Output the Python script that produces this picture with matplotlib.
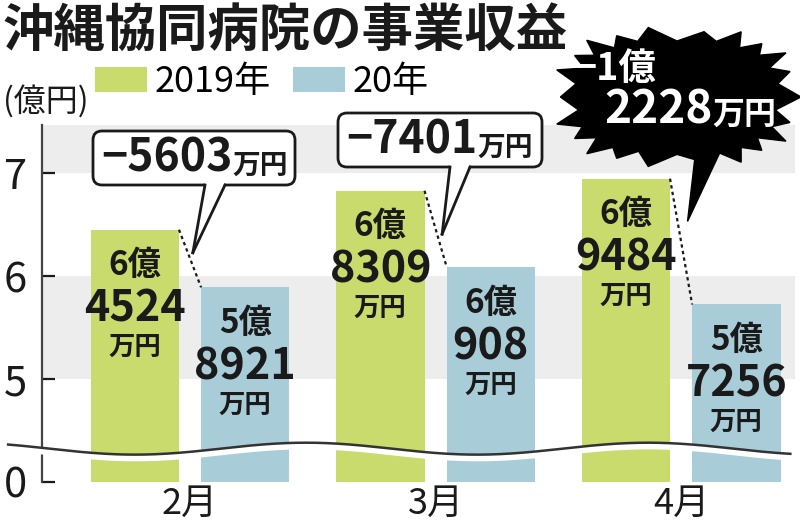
import matplotlib
matplotlib.use("Agg")
import matplotlib.pyplot as plt
import matplotlib.transforms as mtransforms
from matplotlib.patches import FancyBboxPatch, Polygon
from matplotlib.lines import Line2D
import numpy as np

plt.rcParams["font.family"] = ["Noto Sans CJK JP", "DejaVu Sans"]

title = "沖縄協同病院の事業収益"
months = ["2月", "3月", "4月"]
series_names = ["2019年", "20年"]
rev_2019 = [64524, 68309, 69484]  # 万円
rev_2020 = [58921, 60908, 57256]  # 万円
yticks = [0, 5, 6, 7]

GREEN = "#c8db6c"
BLUE = "#a9cdd8"
BAND = "#ededed"
INK = "#1a1a1a"

W, H = 800, 526
fig = plt.figure(figsize=(W / 100, H / 100), dpi=100)
fig.patch.set_facecolor("white")
# top-left pixel coordinates for the decorations
px = mtransforms.Affine2D().scale(1 / W, -1 / H).translate(0, 1) + fig.transFigure

ax = fig.add_axes([42 / W, 1 - 482 / H, (795 - 42) / W, (482 - 125) / H])


# broken axis: 0-5 squeezed into one unit, then linear above 5
def fwd(v):
    v = np.asarray(v, dtype=float)
    return np.where(v < 5, v / 5, v - 4)


def inv(p):
    p = np.asarray(p, dtype=float)
    return np.where(p < 1, p * 5, p + 4)


ax.set_yscale("function", functions=(fwd, inv))
ax.set_ylim(0, 7.47)
ax.set_xlim(-0.603, 2.464)

x = np.arange(len(months))
off, w = 0.225, 0.36
v19 = np.array(rev_2019) / 10000
v20 = np.array(rev_2020) / 10000

ax.axhspan(5, 6, color=BAND, lw=0, zorder=0)
ax.axhspan(7, 7.47, color=BAND, lw=0, zorder=0)

b19 = ax.bar(x - off, v19, w, color=GREEN, label=series_names[0], zorder=2)
b20 = ax.bar(x + off, v20, w, color=BLUE, label=series_names[1], zorder=2)

# wavy break line
wx = np.linspace(-0.741, 2.445, 400)
wy = 1.62 + 0.29 * np.cos(2 * np.pi * (wx - 0.4725) / 1.393)
ax.fill_between(wx, wy + 0.03, wy - 0.30, color="white", lw=0, zorder=3, clip_on=False)
ax.plot(wx, wy, color="#333333", lw=1.8, zorder=4, clip_on=False)

# dotted connectors between the pair tops
for i in range(len(months)):
    ax.plot([x[i] - off + w / 2, x[i] + off - w / 2], [v19[i], v20[i]],
            color=INK, lw=1.6, ls=(0, (1.5, 1.5)), zorder=4)


def bar_label(xc, val):
    oku, man = divmod(val, 10000)
    top = val / 10000
    ax.annotate(f"{oku}億", (xc, top), xytext=(0, -26), textcoords="offset points",
                ha="center", va="center", fontsize=24, weight="bold", color=INK, zorder=5)
    ax.annotate(f"{man}", (xc, top), xytext=(0, -57), textcoords="offset points",
                ha="center", va="center", fontsize=31, weight="bold", color=INK, zorder=5)
    ax.annotate("万円", (xc, top), xytext=(0, -85), textcoords="offset points",
                ha="center", va="center", fontsize=19, weight="bold", color=INK, zorder=5)


for i in range(len(months)):
    bar_label(x[i] - off, rev_2019[i])
    bar_label(x[i] + off, rev_2020[i])

ax.set_yticks(yticks)
ax.set_yticklabels([str(t) for t in yticks])
ax.tick_params(axis="y", direction="in", length=9, width=1.6, labelsize=30, pad=11, colors=INK)
ax.set_xticks(x)
ax.set_xticklabels(months)
ax.tick_params(axis="x", length=0, labelsize=26, pad=3, colors=INK)
for s in ["top", "right", "bottom"]:
    ax.spines[s].set_visible(False)
ax.spines["left"].set_linewidth(1.6)
ax.spines["left"].set_color("#444444")
ax.set_facecolor("white")


def to_px(xd, yd):
    dx, dy = ax.transData.transform((xd, yd))
    return dx, H - dy


def tip_point(i, t, shift):
    x0, y0 = to_px(x[i] - off + w / 2, v19[i])
    x1, y1 = to_px(x[i] + off - w / 2, v20[i])
    return x0 + t * (x1 - x0) + shift, y0 + t * (y1 - y0)


diffs = [b - a for a, b in zip(rev_2019, rev_2020)]
suffixes = []  # (text artist, suffix, size, colour)

# rounded callout boxes for 2月, 3月
boxes = [(93, 131, 202, 54, 205, 225, 0.40), (338, 113, 204, 54, 450, 470, 0.57)]
for i, (bx, by, bw, bh, t0, t1, t) in enumerate(boxes):
    fig.add_artist(FancyBboxPatch((bx, by), bw, bh, boxstyle="round,pad=0,rounding_size=9",
                                  transform=px, fc="white", ec=INK, lw=2))
    tx, ty = tip_point(i, t, 5)
    fig.add_artist(Polygon([(t0, by + bh - 3), (t1, by + bh - 3), (tx, ty)], closed=True,
                           transform=px, fc="white", ec="none"))
    fig.add_artist(Line2D([t0, tx], [by + bh, ty], transform=px, color=INK, lw=2))
    fig.add_artist(Line2D([t1, tx], [by + bh, ty], transform=px, color=INK, lw=2))
    t_num = fig.text((bx + 8) / W, 1 - (by + bh / 2 + 1) / H, f"−{abs(diffs[i])}",
                     fontsize=32, weight="bold", color=INK, ha="left", va="center")
    suffixes.append((t_num, "万円", 20, INK))

# black burst for 4月
n = 22
ang = np.linspace(0, 2 * np.pi, 2 * n, endpoint=False)
r = np.tile([1.0, 0.80, 0.94, 0.82], n // 2 + 1)[: 2 * n]
c, s = np.cos(ang), np.sin(ang)
sx = 677 + 124 * r * np.sign(c) * np.abs(c) ** 0.75
sy = 97 + 70 * r * np.sign(s) * np.abs(s) ** 0.75
fig.add_artist(Polygon(np.column_stack([sx, sy]), closed=True, transform=px, fc="black", ec="black", lw=1))
tx, ty = tip_point(2, 0.34, 10)
fig.add_artist(Polygon([(696, 148), (722, 148), (tx, ty)], closed=True, transform=px,
                       fc="black", ec="black", lw=1))
oku, man = divmod(abs(diffs[2]), 10000)
fig.text(575 / W, 1 - 68 / H, f"−{oku}億", fontsize=27, weight="bold", color="white",
         ha="left", va="center")
t_big = fig.text(604 / W, 1 - 110 / H, f"{man}", fontsize=33, weight="bold", color="white",
                 ha="left", va="center")
suffixes.append((t_big, "万円", 23, "white"))

fig.text(3 / W, 1 - 101 / H, "(億円)", fontsize=23, color=INK, ha="left", va="center")
fig.text(2 / W, 1 - 30 / H, title, fontsize=37, weight="bold", color=INK, ha="left", va="center")

fig.legend(handles=[b19, b20], loc="upper left", bbox_to_anchor=(95 / W, 1 - 64 / H),
           ncol=2, frameon=False, fontsize=26, handlelength=1.45, handleheight=0.7,
           handletextpad=0.2, columnspacing=0.6, borderpad=0, borderaxespad=0)

# smaller 万円 right after each number
fig.canvas.draw()
for art, txt, size, col in suffixes:
    bb = art.get_window_extent()
    fig.text(bb.x1 / W, bb.y0 / H + 0.004, txt, fontsize=size, weight="bold", color=col,
             ha="left", va="bottom")

fig.savefig("out.png", dpi=100)
